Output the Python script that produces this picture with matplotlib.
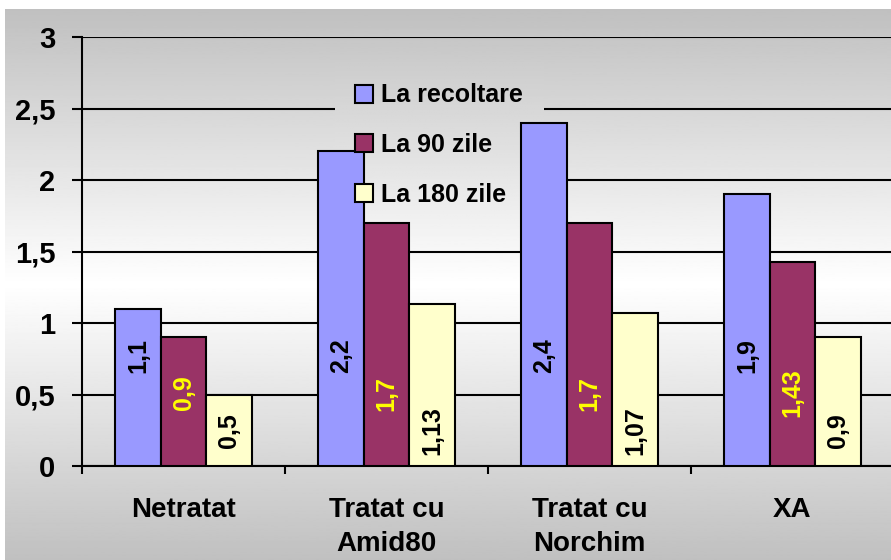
import numpy as np
import matplotlib
matplotlib.use('Agg')
import matplotlib.pyplot as plt

plt.rcParams['font.family'] = ['Liberation Sans', 'DejaVu Sans']
plt.rcParams['font.weight'] = 'bold'

categories = ['Netratat', 'Tratat cu\nAmid80', 'Tratat cu\nNorchim', 'XA']
series = ['La recoltare', 'La 90 zile', 'La 180 zile']
la_recoltare = [1.1, 2.2, 2.4, 1.9]
la_90_zile = [0.9, 1.7, 1.7, 1.43]
la_180_zile = [0.5, 1.13, 1.07, 0.9]
yticks = [0, 0.5, 1, 1.5, 2, 2.5, 3]
ytick_labels = ['0', '0,5', '1', '1,5', '2', '2,5', '3']

colors = ['#9999FF', '#993366', '#FFFFCC']
label_colors = ['black', '#FFFF00', 'black']
label_heights = [0.77, 0.51, 0.245]  # rotated value labels sit at a fixed height per series

W, H = 891, 560
fig = plt.figure(figsize=(W / 100, H / 100), dpi=100)


def shade(py):
    # excel style gradient: gray at top, white in the middle, gray at bottom
    top, bot = 9, H
    mid = (top + bot) / 2
    return 1 - (63 / 255) * np.abs(py - mid) / (mid - top)


bg = fig.add_axes([5 / W, 0, 1 - 5 / W, (H - 9) / H])
rows = np.linspace(9, H, 400)
bg.imshow(shade(rows)[:, None], cmap='gray', vmin=0, vmax=1,
          aspect='auto', extent=[0, 1, 0, 1])
bg.axis('off')

ax = fig.add_axes([82 / W, (H - 466) / H, 812 / W, (466 - 37) / H])
ax.set_facecolor('none')

x = np.arange(len(categories))
w = 0.224
for i, vals in enumerate([la_recoltare, la_90_zile, la_180_zile]):
    xs = x + (i - 1) * w
    ax.bar(xs, vals, w, color=colors[i], edgecolor='black', linewidth=1.5,
           zorder=3, label=series[i])
    for xi, v in zip(xs, vals):
        ax.text(xi, label_heights[i], f'{v:g}'.replace('.', ','), rotation=90,
                ha='center', va='center', color=label_colors[i],
                fontsize=18, fontweight='bold', zorder=4)

ax.set_xlim(-0.5, 3.5)
ax.set_ylim(0, 3)
ax.set_yticks(yticks, ytick_labels)
ax.set_xticks(x, categories)
ax.set_xticks(np.arange(-0.5, 4, 1), minor=True)
ax.set_axisbelow(True)
ax.yaxis.grid(True, color='black', linewidth=1.5)

for s in ['top', 'right']:
    ax.spines[s].set_visible(False)
for s in ['left', 'bottom']:
    ax.spines[s].set_linewidth(1.5)

ax.tick_params(axis='y', length=7, width=1.5, pad=12, labelsize=21)
ax.tick_params(axis='x', which='major', length=0, pad=22, labelsize=20)
ax.tick_params(axis='x', which='minor', length=6, width=1.5)
for t in ax.get_xticklabels():
    t.set_linespacing(1.42)

leg = ax.legend(loc='upper left', bbox_to_anchor=((342 - 20) / W, (H - 51) / H),
                bbox_transform=fig.transFigure, frameon=False, fontsize=18,
                handlelength=0.72, handleheight=0.72, handletextpad=0.35,
                labelspacing=1.02, borderpad=0.8)

# legend area hides the gridlines but stays under the bars
fig.canvas.draw()
bb = leg.get_window_extent()
inv = ax.transData.inverted()
(x0, y0), (x1, y1) = inv.transform([[bb.x0, bb.y0], [bb.x1, bb.y1]])
mrows = np.linspace(H - bb.y1, H - bb.y0, 100)
ax.imshow(shade(mrows)[:, None], cmap='gray', vmin=0, vmax=1, aspect='auto',
          extent=[x0, x1, y0, y1], zorder=1)
ax.set_xlim(-0.5, 3.5)
ax.set_ylim(0, 3)

fig.savefig('out.png', dpi=100)
